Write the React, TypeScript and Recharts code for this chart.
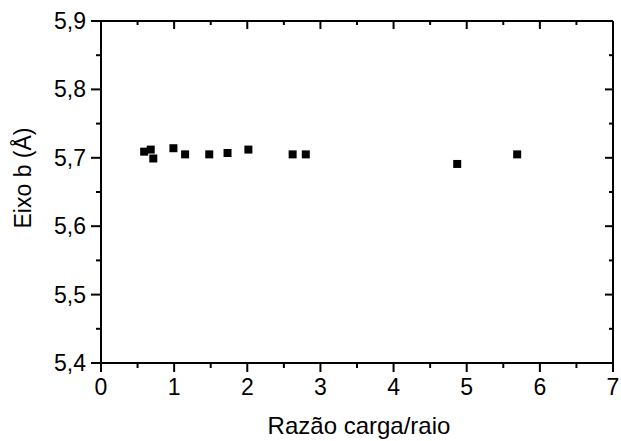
import { ScatterChart, Scatter, XAxis, YAxis, ZAxis } from "recharts";

// carga/raio ratio vs b-axis length
const ratio = [0.59, 0.68, 0.715, 0.99, 1.15, 1.48, 1.73, 2.015, 2.62, 2.8, 4.87, 5.69];
const axisB = [5.709, 5.712, 5.699, 5.714, 5.705, 5.705, 5.707, 5.712, 5.705, 5.705, 5.691, 5.705];

const xTicks = [0, 0.5, 1, 1.5, 2, 2.5, 3, 3.5, 4, 4.5, 5, 5.5, 6, 6.5, 7];
const yTicks = [5.4, 5.45, 5.5, 5.55, 5.6, 5.65, 5.7, 5.75, 5.8, 5.85, 5.9];

const data = ratio.map((r, i) => ({ x: r, y: axisB[i] }));

const INK = "#000";
const FONT = '"Liberation Sans", Arial, sans-serif';
const SW = 2;

const isMajorX = (v: number) => Number.isInteger(v);
const isMajorY = (v: number) => Math.round(v * 100) % 10 === 0;

const BottomTick = ({ x, y, payload }: any) => {
  const major = isMajorX(payload.value);
  return (
    <g>
      <path d={`M${x},${y}V${y + (major ? 9 : 5)}`} stroke={INK} strokeWidth={SW} />
      {major && (
        <text x={x} y={y + 24} textAnchor="middle" dominantBaseline="central" fill={INK} fontSize={23} fontFamily={FONT}>
          {payload.value}
        </text>
      )}
    </g>
  );
};

const TopTick = ({ x, y, payload }: any) => {
  const major = isMajorX(payload.value);
  return <path d={`M${x},${y}V${y + (major ? 8 : 4)}`} stroke={INK} strokeWidth={SW} />;
};

const LeftTick = ({ x, y, payload }: any) => {
  const major = isMajorY(payload.value);
  return (
    <g>
      <path d={`M${x - (major ? 10 : 5)},${y}H${x}`} stroke={INK} strokeWidth={SW} />
      {major && (
        <text x={x - 15} y={y} textAnchor="end" dominantBaseline="central" fill={INK} fontSize={23} fontFamily={FONT}>
          {payload.value.toFixed(1).replace(".", ",")}
        </text>
      )}
    </g>
  );
};

const RightTick = ({ x, y, payload }: any) => {
  const major = isMajorY(payload.value);
  return <path d={`M${x - (major ? 8 : 4)},${y}H${x}`} stroke={INK} strokeWidth={SW} />;
};

const YTitle = ({ viewBox }: any) => {
  const cx = 23;
  const cy = viewBox.y + viewBox.height / 2 - 14;
  return (
    <text x={cx} y={cy} transform={`rotate(-90 ${cx} ${cy})`} textAnchor="middle" dominantBaseline="central" fill={INK} fontSize={23} fontFamily={FONT}>
      Eixo b (Å)
    </text>
  );
};

const XTitle = ({ viewBox }: any) => {
  const cx = viewBox.x + viewBox.width / 2 + 2;
  return (
    <text x={cx} y={viewBox.y + 62} textAnchor="middle" dominantBaseline="central" fill={INK} fontSize={24} fontFamily={FONT}>
      Razão carga/raio
    </text>
  );
};

const axisCommon = {
  type: "number" as const,
  interval: 0 as const,
  tickSize: 0,
  tickMargin: 0,
  tickLine: false,
  stroke: INK,
  strokeWidth: SW,
  axisLine: { stroke: INK, strokeWidth: SW },
};

export default function App() {
  return (
    <div style={{ width: 621, height: 441, background: "#fff" }}>
      <style>{`body{margin:0}`}</style>
      <ScatterChart width={621} height={441} margin={{ top: 20, right: 7, bottom: 0, left: 0 }}>
        <XAxis {...axisCommon} dataKey="x" xAxisId="b" domain={[0, 7]} ticks={xTicks} height={78} tick={<BottomTick />} label={<XTitle />} />
        <XAxis {...axisCommon} dataKey="x" xAxisId="t" orientation="top" domain={[0, 7]} ticks={xTicks} height={1} tick={<TopTick />} />
        <YAxis {...axisCommon} dataKey="y" yAxisId="l" domain={[5.4, 5.9]} ticks={yTicks} width={101} tick={<LeftTick />} label={<YTitle />} />
        <YAxis {...axisCommon} dataKey="y" yAxisId="r" orientation="right" domain={[5.4, 5.9]} ticks={yTicks} width={1} tick={<RightTick />} />
        <ZAxis range={[121, 121]} />
        <Scatter data={data} xAxisId="b" yAxisId="l" shape="square" fill="#000" isAnimationActive={false} />
        <Scatter data={data} xAxisId="t" yAxisId="r" shape={() => null} legendType="none" isAnimationActive={false} />
      </ScatterChart>
    </div>
  );
}
